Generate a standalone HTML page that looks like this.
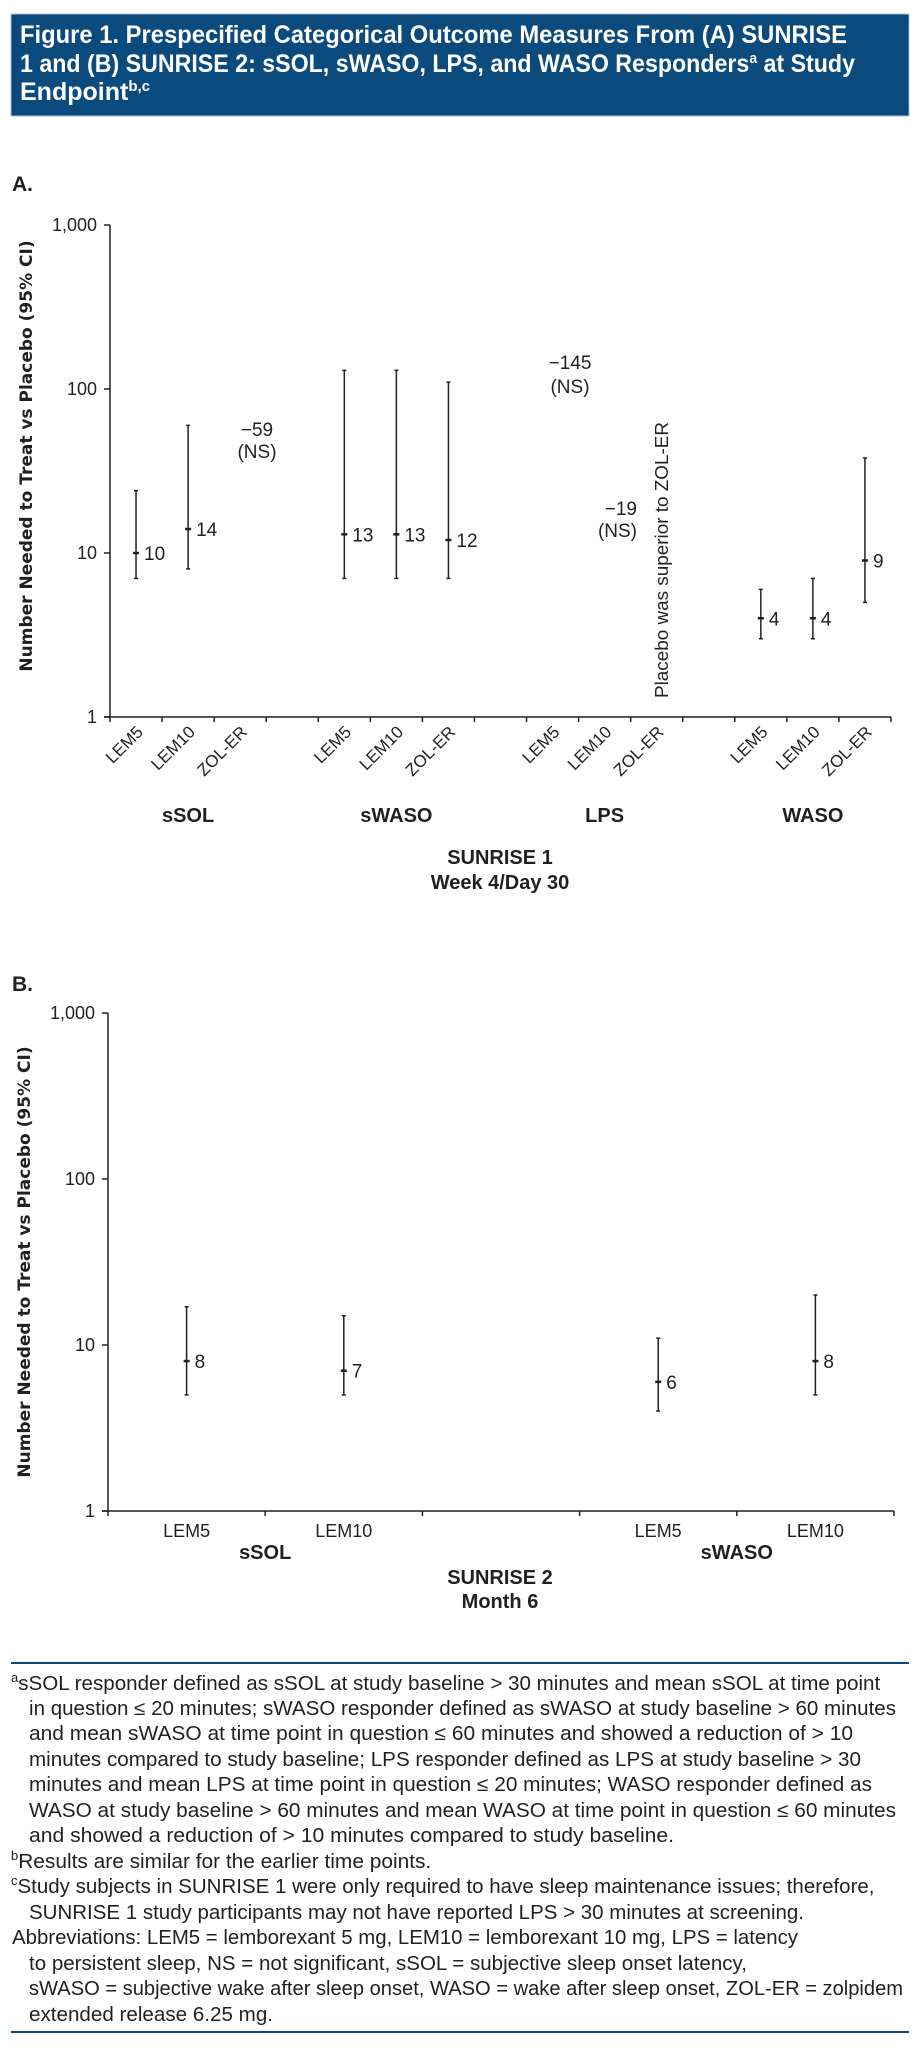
<!DOCTYPE html>
<html><head><meta charset="utf-8">
<style>
html,body{margin:0;padding:0;background:#fff;}
svg{display:block;}
text{fill:#231f20;font-family:"Liberation Sans Narrow","Liberation Sans",sans-serif;}
.b{font-weight:bold;}
</style></head>
<body>
<svg id="fig" width="915" height="2048" viewBox="0 0 915 2048" xmlns="http://www.w3.org/2000/svg">
<g>
<rect x="11" y="14" width="898" height="102" fill="#0b4a7d" stroke="#a8c0d6" stroke-width="1"/>
<text x="20" y="43" font-size="25" class="b" style="fill:#fff" textLength="827" lengthAdjust="spacingAndGlyphs">Figure 1. Prespecified Categorical Outcome Measures From (A) SUNRISE</text>
<text x="20" y="72" font-size="25" class="b" style="fill:#fff" textLength="835" lengthAdjust="spacingAndGlyphs">1 and (B) SUNRISE 2: sSOL, sWASO, LPS, and WASO Responders<tspan font-size="15" dy="-9">a</tspan><tspan dy="9"> at Study</tspan></text>
<text x="20" y="100" font-size="25" class="b" style="fill:#fff">Endpoint<tspan font-size="15" dy="-9">b,c</tspan></text>
</g>
<text x="12" y="191" font-size="21" class="b">A.</text>
<g id="chartA"></g>
<text x="12" y="991" font-size="21" class="b">B.</text>
<g id="chartB"></g>
<g font-size="20">
<line x1="11" y1="1663" x2="909" y2="1663" stroke="#0b4a7d" stroke-width="2"/>
<text x="11" y="1690"><tspan font-size="13" dy="-8">a</tspan><tspan dy="8" textLength="862" lengthAdjust="spacingAndGlyphs">sSOL responder defined as sSOL at study baseline &gt; 30 minutes and mean sSOL at time point</tspan></text>
<text x="29" y="1715" textLength="867" lengthAdjust="spacingAndGlyphs">in question ≤ 20 minutes; sWASO responder defined as sWASO at study baseline &gt; 60 minutes</text>
<text x="29" y="1740" textLength="824" lengthAdjust="spacingAndGlyphs">and mean sWASO at time point in question ≤ 60 minutes and showed a reduction of &gt; 10</text>
<text x="29" y="1766" textLength="832" lengthAdjust="spacingAndGlyphs">minutes compared to study baseline; LPS responder defined as LPS at study baseline &gt; 30</text>
<text x="29" y="1791" textLength="843" lengthAdjust="spacingAndGlyphs">minutes and mean LPS at time point in question ≤ 20 minutes; WASO responder defined as</text>
<text x="29" y="1817" textLength="867" lengthAdjust="spacingAndGlyphs">WASO at study baseline &gt; 60 minutes and mean WASO at time point in question ≤ 60 minutes</text>
<text x="29" y="1842" textLength="645" lengthAdjust="spacingAndGlyphs">and showed a reduction of &gt; 10 minutes compared to study baseline.</text>
<text x="11" y="1868"><tspan font-size="13" dy="-8">b</tspan><tspan dy="8" textLength="413" lengthAdjust="spacingAndGlyphs">Results are similar for the earlier time points.</tspan></text>
<text x="11" y="1893"><tspan font-size="13" dy="-8">c</tspan><tspan dy="8" textLength="857" lengthAdjust="spacingAndGlyphs">Study subjects in SUNRISE 1 were only required to have sleep maintenance issues; therefore,</tspan></text>
<text x="29" y="1919" textLength="775" lengthAdjust="spacingAndGlyphs">SUNRISE 1 study participants may not have reported LPS &gt; 30 minutes at screening.</text>
<text x="12" y="1944" textLength="786" lengthAdjust="spacingAndGlyphs">Abbreviations: LEM5 = lemborexant 5 mg, LEM10 = lemborexant 10 mg, LPS = latency</text>
<text x="29" y="1970" textLength="718" lengthAdjust="spacingAndGlyphs">to persistent sleep, NS = not significant, sSOL = subjective sleep onset latency,</text>
<text x="29" y="1995" textLength="874" lengthAdjust="spacingAndGlyphs">sWASO = subjective wake after sleep onset, WASO = wake after sleep onset, ZOL-ER = zolpidem</text>
<text x="29" y="2021" textLength="244" lengthAdjust="spacingAndGlyphs">extended release 6.25 mg.</text>
<line x1="11" y1="2032" x2="909" y2="2032" stroke="#0b4a7d" stroke-width="2"/>
</g>
</svg>
<script>
// Panel A data (slots: 0-2 sSOL, 4-6 sWASO, 8-10 LPS, 12-14 WASO)
const catsA = ["LEM5","LEM10","ZOL-ER","","LEM5","LEM10","ZOL-ER","","LEM5","LEM10","ZOL-ER","","LEM5","LEM10","ZOL-ER"];
const valA  = [10,14,null,null,13,13,12,null,null,null,null,null,4,4,9];
const lowA  = [7,8,null,null,7,7,7,null,null,null,null,null,3,3,5];
const highA = [24,60,null,null,130,130,110,null,null,null,null,null,6,7,38];
const groupsA = ["sSOL","sWASO","LPS","WASO"];
const ticksY = [1,10,100,1000];
const tickLabelsY = ["1","10","100","1,000"];
// Panel B data
const catsB = ["LEM5","LEM10","","LEM5","LEM10"];
const valB  = [8,7,null,6,8];
const lowB  = [5,5,null,4,5];
const highB = [17,15,null,11,20];
const groupsB = ["sSOL","sWASO"];

const NS="http://www.w3.org/2000/svg";
function mk(parent,tag,attrs,txt){const e=document.createElementNS(NS,tag);for(const k in attrs)e.setAttribute(k,attrs[k]);if(txt!==undefined)e.textContent=txt;parent.appendChild(e);return e;}

function drawChart(g,o){
  const yS=v=>o.y1-(Math.log10(v))*(o.y1-o.y1000)/3;
  const n=o.cats.length, w=(o.x1-o.x0)/n;
  const xS=i=>o.x0+(i+0.5)*w;
  const st={stroke:"#231f20","stroke-width":1.5};
  const yAxis=mk(g,"line",Object.assign({x1:o.x0,y1:o.y1000,x2:o.x0,y2:o.y1},st));
  
  
  const xAxis=mk(g,"line",Object.assign({x1:o.x0-6,y1:o.y1,x2:o.x1,y2:o.y1},st));
  
  
  ticksY.forEach((t,i)=>{
    const y=yS(t);
    mk(g,"line",Object.assign({x1:o.x0-6,y1:y,x2:o.x0,y2:y},st));
    const tl=mk(g,"text",{x:o.x0-13,y:y+6,"font-size":18,"text-anchor":"end"},tickLabelsY[i]);
    
    
  });
  for(let i=0;i<=n;i++){const x=o.x0+i*w;mk(g,"line",Object.assign({x1:x,y1:o.y1,x2:x,y2:o.y1+5},st));}
  o.cats.forEach((c,i)=>{
    if(!c)return;
    let t;
    if(o.rot){
      const ax=xS(i)+8, ay=o.y1+16;
      t=mk(g,"text",{x:ax,y:ay,"font-size":17,"text-anchor":"end",transform:`rotate(-45 ${ax} ${ay})`},c);
    } else {
      t=mk(g,"text",{x:xS(i),y:o.y1+26,"font-size":18,"text-anchor":"middle"},c);
    }
    
    
  });
  o.groups.forEach((gname,k)=>{
    const cx=o.groupX(k,xS,w);
    const t=mk(g,"text",{x:cx,y:o.groupY,"font-size":20,"text-anchor":"middle",class:"b"},gname);
    
    
  });
  o.vals.forEach((v,i)=>{
    if(v==null)return;
    const x=xS(i), yl=yS(o.low[i]), yh=yS(o.high[i]), yv=yS(v);
    const bar=mk(g,"g",{});
    
    
    mk(bar,"line",Object.assign({x1:x,y1:yh,x2:x,y2:yl},st));
    mk(bar,"line",Object.assign({x1:x-2,y1:yh,x2:x+2,y2:yh},st));
    mk(bar,"line",Object.assign({x1:x-2,y1:yl,x2:x+2,y2:yl},st));
    mk(bar,"line",{x1:x-3,y1:yv,x2:x+3,y2:yv,stroke:"#231f20","stroke-width":2.5});
    const lb=mk(g,"text",{x:x+8,y:yv+7,"font-size":19},String(v));
    
    
  });
  const yt=mk(g,"text",{x:o.ytx,y:o.yty,"font-size":17,class:"b","text-anchor":"middle",transform:`rotate(-90 ${o.ytx} ${o.yty})`,style:'font-family:"DejaVu Sans",sans-serif'},"Number Needed to Treat vs Placebo (95% CI)");
  
  
}

const gA=document.getElementById("chartA");
drawChart(gA,{cats:catsA,vals:valA,low:lowA,high:highA,groups:groupsA,x0:110,x1:891,y1:717,y1000:225,rot:true,
  groupX:(k,xS)=>xS(k*4+1),groupY:822,ytx:32,yty:456});
const gB=document.getElementById("chartB");
drawChart(gB,{cats:catsB,vals:valB,low:lowB,high:highB,groups:groupsB,x0:108,x1:894,y1:1511,y1000:1013,rot:false,
  groupX:(k,xS,w)=>xS(k*3)+w/2,groupY:1559,ytx:30,yty:1262});
</script>
<svg width="0" height="0" style="position:absolute"></svg>
<div style="position:absolute;left:0;top:0;width:915px;height:2048px;pointer-events:none">
<svg width="915" height="2048" xmlns="http://www.w3.org/2000/svg">
<text x="257" y="436" font-size="19" text-anchor="middle">−59</text>
<text x="257" y="458" font-size="19" text-anchor="middle">(NS)</text>
<text x="570" y="369" font-size="19" text-anchor="middle">−145</text>
<text x="570" y="393" font-size="19" text-anchor="middle">(NS)</text>
<text x="637" y="515" font-size="19" text-anchor="end">−19</text>
<text x="637" y="537" font-size="19" text-anchor="end">(NS)</text>
<text x="668" y="698" font-size="18" textLength="276" lengthAdjust="spacingAndGlyphs" transform="rotate(-90 668 698)" style='font-family:"Liberation Sans",sans-serif'>Placebo was superior to ZOL-ER</text>
<text x="500" y="864" font-size="20" class="b" text-anchor="middle">SUNRISE 1</text>
<text x="500" y="889" font-size="20" class="b" text-anchor="middle">Week 4/Day 30</text>
<text x="500" y="1584" font-size="20" class="b" text-anchor="middle">SUNRISE 2</text>
<text x="500" y="1608" font-size="20" class="b" text-anchor="middle">Month 6</text>
</svg>
</div>
</body></html>
